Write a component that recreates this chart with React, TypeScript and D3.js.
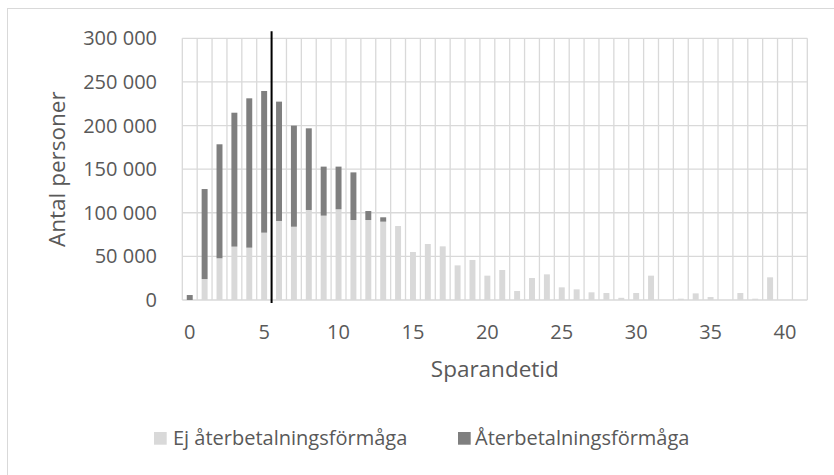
import React from 'react';
import { scaleBand, scaleLinear, formatLocale } from 'd3';

// Sparandetid (år), 0..41
const categories = Array.from({ length: 42 }, (_, i) => i);
const xTickLabels = [0, 5, 10, 15, 20, 25, 30, 35, 40];
const yTicks = [0, 50000, 100000, 150000, 200000, 250000, 300000];

// Ej återbetalningsförmåga (ljus)
const ejValues = [
  0, 24000, 47800, 61200, 60000, 77200, 90600, 84000, 103200, 96700,
  104000, 91700, 91700, 89800, 84800, 55000, 64200, 61500, 39700, 45900,
  27900, 34400, 10300, 25200, 29400, 14500, 12200, 8800, 8000, 2500,
  8000, 27900, 0, 1500, 7600, 3400, 0, 8000, 1500, 26000,
  0, 0,
];

// Återbetalningsförmåga (mörk)
const aterValues = [
  5700, 103200, 130700, 153500, 171200, 162400, 136800, 115900, 93600, 56200,
  48900, 54600, 10300, 5000, 0, 0, 0, 0, 0, 0,
  0, 0, 0, 0, 0, 0, 0, 0, 0, 0,
  0, 0, 0, 0, 0, 0, 0, 0, 0, 0,
  0, 0,
];

const seriesNames = ['Ej återbetalningsförmåga', 'Återbetalningsförmåga'];
const seriesColors = ['#d9d9d9', '#7f7f7f'];

// referenslinje mellan 5 och 6
const markerAfter = 5;
const markerRange = [-3500, 308000];

const W = 834;
const H = 475;
const margin = { top: 38.3, right: 26.7, bottom: 175, left: 182.3 };
const font = '"Open Sans", sans-serif';
const textColor = '#595959';
const gridColor = '#d9d9d9';

const fmt = formatLocale({ decimal: ',', thousands: '\u00a0', grouping: [3], currency: ['', ' kr'] }).format(',');

export default function App() {
  const x0 = margin.left;
  const x1 = W - margin.right;
  const y0 = margin.top;
  const y1 = H - margin.bottom;

  const x = scaleBand<number>().domain(categories).range([x0, x1]).paddingInner(0).paddingOuter(0);
  const barW = x.bandwidth() * 0.4;
  const y = scaleLinear().domain([0, 300000]).range([y1, y0]);

  const markerX = (x(markerAfter) as number) + x.bandwidth();

  return (
    <svg width={W} height={H} style={{ position: 'absolute', left: 0, top: 0, background: '#fff' }} fontFamily={font}>
      {/* ram */}
      <rect x={7.5} y={8.5} width={W + 50} height={H + 50} fill="none" stroke={gridColor} strokeWidth={1} />

      {/* stödlinjer */}
      {yTicks.map(t => (
        <line key={'h' + t} x1={x0} x2={x1} y1={y(t)} y2={y(t)} stroke={gridColor} strokeWidth={1.3} />
      ))}
      {[...categories, categories.length].map(c => {
        const xx = c < categories.length ? (x(c) as number) : x1;
        return <line key={'v' + c} x1={xx} x2={xx} y1={y0} y2={y1} stroke={gridColor} strokeWidth={1.3} />;
      })}

      {/* staplar */}
      {categories.map((c, i) => {
        const cx = (x(c) as number) + x.bandwidth() / 2;
        const a = ejValues[i];
        const b = aterValues[i];
        return (
          <g key={'b' + c}>
            {a > 0 && <rect x={cx - barW / 2} y={y(a)} width={barW} height={y(0) - y(a)} fill={seriesColors[0]} />}
            {b > 0 && <rect x={cx - barW / 2} y={y(a + b)} width={barW} height={y(a) - y(a + b)} fill={seriesColors[1]} />}
          </g>
        );
      })}

      {/* referenslinje */}
      <line x1={markerX} x2={markerX} y1={y(markerRange[0])} y2={y(markerRange[1])} stroke="#000" strokeWidth={2} />

      {/* y-axel */}
      {yTicks.map(t => (
        <text key={'yt' + t} x={157} y={y(t)} dy="0.35em" textAnchor="end" fontSize={20} fill={textColor}>
          {fmt(t)}
        </text>
      ))}
      <text transform={`translate(65,${(y0 + y1) / 2}) rotate(-90)`} textAnchor="middle" fontSize={22.5} fill={textColor}>
        Antal personer
      </text>

      {/* x-axel */}
      {xTickLabels.map(t => (
        <text key={'xt' + t} x={(x(t) as number) + x.bandwidth() / 2} y={339} textAnchor="middle" fontSize={20} fill={textColor}>
          {t}
        </text>
      ))}
      <text x={(x0 + x1) / 2} y={377} textAnchor="middle" fontSize={22.5} fill={textColor}>
        Sparandetid
      </text>

      {/* förklaring */}
      <rect x={154} y={432} width={12.7} height={12.7} fill={seriesColors[0]} />
      <text x={173} y={445} fontSize={20} fill={textColor}>{seriesNames[0]}</text>
      <rect x={458} y={432} width={12.7} height={12.7} fill={seriesColors[1]} />
      <text x={475} y={445} fontSize={20} fill={textColor}>{seriesNames[1]}</text>
    </svg>
  );
}
